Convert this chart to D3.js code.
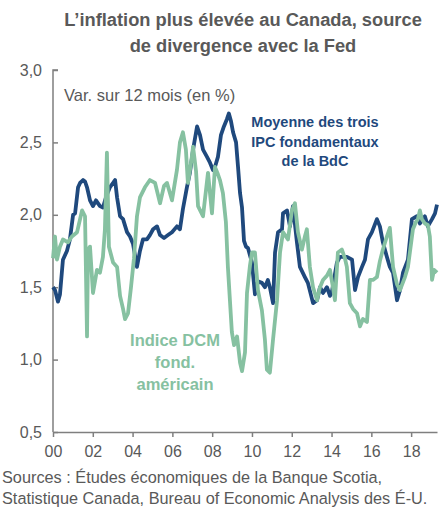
<!DOCTYPE html>
<html lang="fr">
<head>
<meta charset="UTF-8">
<title>Inflation Canada vs É-U</title>
<script src="https://d3js.org/d3.v7.min.js"></script>
<style>
  body { margin: 0; background: #fff; }
  svg text { font-family: "Liberation Sans", Arial, sans-serif; fill: #595959; }
</style>
</head>
<body>
<svg width="439" height="508"></svg>
<script>
// Moyenne des trois IPC fondamentaux de la BdC (années décimales, %)
const canYears = [2000.00,2000.10,2000.25,2000.35,2000.50,2000.70,2000.85,2001.01,2001.11,2001.26,2001.36,2001.51,2001.61,2001.71,2001.86,
  2002.01,2002.16,2002.36,2002.51,2002.66,2002.86,2003.02,2003.12,2003.22,2003.37,2003.52,2003.72,2003.87,2004.02,2004.22,2004.37,2004.52,
  2004.72,2004.87,2005.03,2005.23,2005.38,2005.58,2005.78,2005.98,2006.23,2006.38,2006.53,2006.73,2006.88,2007.04,2007.24,2007.39,2007.54,
  2007.74,2007.89,2008.04,2008.14,2008.29,2008.44,2008.59,2008.74,2008.84,2008.94,2009.05,2009.20,2009.30,2009.40,2009.50,2009.60,2009.70,
  2009.80,2010.00,2010.15,2010.30,2010.50,2010.65,2010.80,2010.90,2011.06,2011.16,2011.31,2011.51,2011.56,2011.76,2011.91,2012.06,2012.26,
  2012.41,2012.66,2012.81,2013.07,2013.27,2013.42,2013.57,2013.77,2013.92,2014.02,2014.27,2014.42,2014.77,2015.03,2015.18,2015.33,2015.53,
  2015.68,2015.83,2016.03,2016.28,2016.43,2016.58,2016.78,2016.93,2017.09,2017.29,2017.44,2017.59,2017.84,2018.04,2018.29,2018.44,2018.69,
  2018.84,2019.05,2019.20,2019.30];
const canValues = [1.50,1.48,1.40,1.45,1.69,1.75,1.83,2.00,2.01,2.19,2.22,2.24,2.23,2.19,2.10,
  2.06,2.10,2.06,2.05,2.12,2.19,2.22,2.24,2.12,1.99,1.97,1.88,1.85,1.80,1.64,1.75,1.83,
  1.83,1.86,1.90,1.92,1.86,1.84,1.86,1.88,1.92,1.90,2.04,2.19,2.29,2.45,2.61,2.55,2.45,
  2.40,2.36,2.31,2.33,2.40,2.55,2.61,2.66,2.70,2.65,2.57,2.50,2.33,2.15,2.05,1.82,1.78,
  1.77,1.67,1.45,1.54,1.53,1.50,1.55,1.50,1.39,1.74,1.88,1.90,2.01,2.03,1.92,2.06,1.81,
  1.64,1.57,1.53,1.39,1.41,1.50,1.46,1.50,1.44,1.47,1.67,1.71,1.71,1.69,1.48,1.57,1.64,
  1.69,1.83,1.88,1.97,1.92,1.81,1.71,1.64,1.60,1.41,1.48,1.60,1.69,1.97,1.99,1.94,1.99,
  1.92,1.97,2.01,2.07];

// Indice DCM fondamental américain
const usYears = [2000.00,2000.10,2000.20,2000.35,2000.50,2000.75,2000.95,2001.21,2001.36,2001.46,2001.61,2001.71,2001.76,2001.86,2002.01,
  2002.21,2002.36,2002.51,2002.61,2002.71,2002.81,2003.02,2003.22,2003.37,2003.52,2003.62,2003.77,2003.92,2004.07,2004.22,2004.37,2004.62,
  2004.87,2005.13,2005.38,2005.58,2005.73,2005.98,2006.23,2006.38,2006.53,2006.68,2006.78,2006.93,2007.04,2007.19,2007.29,2007.54,2007.79,
  2007.99,2008.14,2008.29,2008.39,2008.54,2008.69,2008.79,2008.99,2009.10,2009.25,2009.40,2009.50,2009.65,2009.75,2009.90,2010.00,2010.15,
  2010.30,2010.50,2010.65,2010.75,2010.90,2011.06,2011.26,2011.41,2011.56,2011.81,2012.01,2012.16,2012.31,2012.51,2012.66,2012.76,2012.91,
  2013.07,2013.27,2013.42,2013.57,2013.77,2013.92,2014.07,2014.17,2014.32,2014.52,2014.67,2014.77,2014.92,2015.08,2015.28,2015.43,2015.58,
  2015.78,2015.93,2016.08,2016.28,2016.43,2016.58,2016.78,2016.93,2017.09,2017.29,2017.44,2017.69,2017.84,2018.09,2018.24,2018.34,2018.44,
  2018.54,2018.69,2018.84,2018.94,2019.05,2019.15,2019.30];
const usValues = [1.70,1.85,1.69,1.78,1.83,1.81,1.85,1.88,1.97,2.03,1.99,1.16,1.76,1.78,1.46,
  1.62,1.60,1.71,1.90,2.43,1.78,1.67,1.64,1.44,1.35,1.28,1.32,1.50,1.70,1.99,2.12,2.19,
  2.24,2.22,2.08,2.20,2.22,2.10,2.31,2.50,2.57,2.45,2.22,2.35,2.47,2.30,2.06,1.99,2.29,
  2.01,2.33,2.28,2.24,2.15,1.95,1.64,1.19,1.10,1.16,0.98,0.92,1.05,1.46,1.65,1.74,1.74,
  1.48,1.34,1.14,0.93,0.91,1.14,1.41,1.74,1.88,1.83,2.03,2.08,1.88,1.76,1.85,1.90,1.64,
  1.50,1.41,1.50,1.55,1.58,1.62,1.50,1.41,1.74,1.76,1.70,1.64,1.39,1.35,1.32,1.23,1.28,
  1.26,1.55,1.55,1.57,1.68,1.76,1.85,1.91,1.64,1.52,1.48,1.57,1.64,1.90,1.95,1.97,2.03,
  1.97,1.94,1.93,1.85,1.55,1.62,1.60];

const yTicks = [0.5, 1.0, 1.5, 2.0, 2.5, 3.0];
const xTicks = [2000, 2002, 2004, 2006, 2008, 2010, 2012, 2014, 2016, 2018];

const navy = "#1f497d", green = "#86c1a1", grey = "#595959";

const svg = d3.select("svg");

const x = d3.scaleLinear().domain([2000, 2019.3]).range([53, 437]);
const y = d3.scaleLinear().domain([0.5, 3.0]).range([432, 70]);

// titre
svg.append("text").attr("x", 243).attr("y", 26).attr("text-anchor", "middle")
  .style("font-size", "18.3px").style("font-weight", "bold").text("L’inflation plus élevée au Canada, source");
svg.append("text").attr("x", 243).attr("y", 52).attr("text-anchor", "middle")
  .style("font-size", "18.3px").style("font-weight", "bold").text("de divergence avec la Fed");

// axe y (ticks vers l'intérieur)
const yAxis = svg.append("g").attr("transform", "translate(53,0)")
  .call(d3.axisRight(y).tickValues(yTicks).tickSize(5).tickFormat(d => d3.format(".1f")(d).replace(".", ",")));
yAxis.select(".domain").attr("stroke", "#7f7f7f").attr("stroke-width", 1.5).attr("d", "M5,70H0V432");
yAxis.selectAll(".tick line").attr("stroke", "#7f7f7f").attr("stroke-width", 1.5);
yAxis.selectAll(".tick text").attr("x", -11).attr("text-anchor", "end")
  .style("font-size", "16px").style("fill", grey);

// axe x
const xAxis = svg.append("g").attr("transform", "translate(0,432)")
  .call(d3.axisBottom(x).tickValues(xTicks).tickSize(5).tickSizeOuter(0)
    .tickFormat(d => String(d % 100).padStart(2, "0")));
xAxis.select(".domain").attr("stroke", "#7f7f7f").attr("stroke-width", 1.5);
xAxis.selectAll(".tick line").attr("stroke", "#7f7f7f").attr("stroke-width", 1.5);
xAxis.selectAll(".tick text").attr("y", 14).style("font-size", "16px").style("fill", grey);

// lignes
const line = d3.line().x(d => x(d[0])).y(d => y(d[1]));
const canData = d3.zip(canYears, canValues);
const usData = d3.zip(usYears, usValues);

svg.append("path").datum(canData).attr("d", line)
  .attr("fill", "none").attr("stroke", navy).attr("stroke-width", 3.8).attr("stroke-linejoin", "round");
svg.append("path").datum(usData).attr("d", line)
  .attr("fill", "none").attr("stroke", green).attr("stroke-width", 3.8).attr("stroke-linejoin", "round");

// annotations
svg.append("text").attr("x", 64).attr("y", 101).style("font-size", "16.5px").text("Var. sur 12 mois (en %)");

const navyLbl = ["Moyenne des trois", "IPC fondamentaux", "de la BdC"];
svg.selectAll(".navyLbl").data(navyLbl).enter().append("text")
  .attr("x", 315).attr("y", (d, i) => 127 + i * 19.5).attr("text-anchor", "middle")
  .style("font-size", "14.5px").style("font-weight", "bold").style("fill", navy).text(d => d);

const greenLbl = ["Indice DCM", "fond.", "américain"];
svg.selectAll(".greenLbl").data(greenLbl).enter().append("text")
  .attr("x", 175).attr("y", (d, i) => 346 + i * 22).attr("text-anchor", "middle")
  .style("font-size", "16.5px").style("font-weight", "bold").style("fill", green).text(d => d);

// sources
svg.append("text").attr("x", 2).attr("y", 483).style("font-size", "16.3px")
  .text("Sources : Études économiques de la Banque Scotia,");
svg.append("text").attr("x", 2).attr("y", 504).style("font-size", "16.3px")
  .text("Statistique Canada, Bureau of Economic Analysis des É-U.");
</script>
</body>
</html>
